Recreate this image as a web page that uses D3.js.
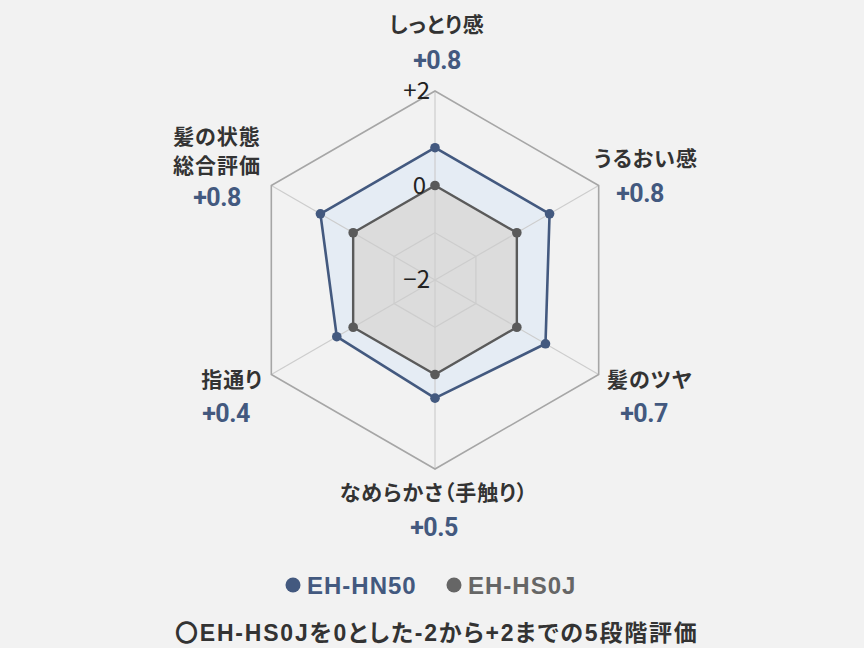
<!DOCTYPE html>
<html>
<head>
<meta charset="utf-8">
<script src="https://cdn.jsdelivr.net/npm/d3@7"></script>
<style>
  html, body { margin: 0; padding: 0; background: #f2f2f2; }
  svg { display: block; }
  .jp { font-feature-settings: "palt"; }
</style>
</head>
<body>
<div id="chart"></div>
<script>
// data
var axes = ["しっとり感", "うるおい感", "髪のツヤ", "なめらかさ（手触り）", "指通り", "髪の状態総合評価"];
var valuesHN50 = [0.8, 0.8, 0.7, 0.5, 0.4, 0.8];
var valuesHS0J = [0, 0, 0, 0, 0, 0];
var valueLabels = ["+0.8", "+0.8", "+0.7", "+0.5", "+0.4", "+0.8"];
var seriesNames = ["EH-HN50", "EH-HS0J"];
var tickValues = [-2, 0, 2];
var tickLabels = ["−2", "0", "+2"];
var gridValues = [-1, 0];
var footnote = "〇EH-HS0Jを0とした-2から+2までの5段階評価";

var width = 864, height = 648;
var cx = 435, cy = 280, R = 189;

var blue = "#43597f", gray = "#5a5a5a";
var jp = "'Noto Sans CJK JP', 'Noto Sans', sans-serif";
var num = "Roboto, 'Liberation Sans', sans-serif";
var latin = "'Liberation Sans', 'Noto Sans CJK JP', sans-serif";

var svg = d3.select("#chart").append("svg")
    .attr("width", width).attr("height", height);

svg.append("rect").attr("width", width).attr("height", height).attr("fill", "#f2f2f2");

var r = d3.scaleLinear().domain([-2, 2]).range([0, R]);
var angle = d3.scaleLinear().domain([0, axes.length]).range([0, 2 * Math.PI]);

function pt(i, v) {
    var a = angle(i);
    return [cx + r(v) * Math.sin(a), cy - r(v) * Math.cos(a)];
}

var line = d3.line().curve(d3.curveLinearClosed);
var g = svg.append("g");

// fills first
g.append("path")
    .attr("d", line(valuesHN50.map(function(v, i){ return pt(i, v); })))
    .attr("fill", "#e5ecf4");
g.append("path")
    .attr("d", line(valuesHS0J.map(function(v, i){ return pt(i, v); })))
    .attr("fill", "#dcdcdc");

// axis lines
g.selectAll(".axis").data(axes).enter().append("line")
    .attr("x1", cx).attr("y1", cy)
    .attr("x2", function(d, i){ return pt(i, 2)[0]; })
    .attr("y2", function(d, i){ return pt(i, 2)[1]; })
    .attr("stroke", "#cdcdcd").attr("stroke-width", 1.2);

// inner rings
g.selectAll(".ring").data(gridValues).enter().append("path")
    .attr("d", function(v){ return line(axes.map(function(d, i){ return pt(i, v); })); })
    .attr("fill", "none").attr("stroke", "#cdcdcd").attr("stroke-width", 1.2);

// outer ring
g.append("path")
    .attr("d", line(axes.map(function(d, i){ return pt(i, 2); })))
    .attr("fill", "none").attr("stroke", "#a6a6a6").attr("stroke-width", 1.6);

// series outlines
g.append("path")
    .attr("d", line(valuesHN50.map(function(v, i){ return pt(i, v); })))
    .attr("fill", "none")
    .attr("stroke", blue).attr("stroke-width", 2.6).attr("stroke-linejoin", "round");
g.append("path")
    .attr("d", line(valuesHS0J.map(function(v, i){ return pt(i, v); })))
    .attr("fill", "none")
    .attr("stroke", gray).attr("stroke-width", 2.4).attr("stroke-linejoin", "round");

// dots
g.selectAll(".dotHN").data(valuesHN50).enter().append("circle")
    .attr("cx", function(v, i){ return pt(i, v)[0]; })
    .attr("cy", function(v, i){ return pt(i, v)[1]; })
    .attr("r", 4.8).attr("fill", blue);
g.selectAll(".dotHS").data(valuesHS0J).enter().append("circle")
    .attr("cx", function(v, i){ return pt(i, v)[0]; })
    .attr("cy", function(v, i){ return pt(i, v)[1]; })
    .attr("r", 4.8).attr("fill", gray);

// tick labels
g.selectAll(".tick").data(tickValues).enter().append("text")
    .attr("x", function(v){ return v === 0 ? cx - 9 : cx - 5; })
    .attr("y", function(v){ return cy - r(v) + 8; })
    .attr("text-anchor", "end")
    .attr("font-family", jp).attr("font-weight", 400).attr("font-size", 24).attr("fill", "#222")
    .text(function(v, i){ return tickLabels[i]; });

// category + value labels
var labelPos = [
    {x: 437, y: [32], vy: 69},
    {x: 646, y: [166], vy: 202},
    {x: 650, y: [387], vy: 422},
    {x: 434, y: [500], vy: 536},
    {x: 232, y: [387], vy: 422},
    {x: 217, y: [144, 173], vy: 206}
];
var catLines = [["しっとり感"], ["うるおい感"], ["髪のツヤ"], ["なめらかさ（手触り）"], ["指通り"], ["髪の状態", "総合評価"]];

axes.forEach(function(a, i){
    var p = labelPos[i];
    catLines[i].forEach(function(t, j){
        svg.append("text").attr("class", "jp")
            .attr("x", p.x).attr("y", p.y[j])
            .attr("text-anchor", "middle")
            .attr("font-family", jp).attr("font-weight", "bold").attr("font-size", 21)
            .attr("letter-spacing", 1)
            .attr("fill", "#333")
            .text(t);
    });
    svg.append("text")
        .attr("x", p.x - (i === 1 || i === 2 || i === 4 ? 6 : 0)).attr("y", p.vy)
        .attr("text-anchor", "middle")
        .attr("font-family", num).attr("font-weight", "bold").attr("font-size", 25)
        .attr("letter-spacing", -0.5)
        .attr("fill", blue)
        .text(valueLabels[i]);
});

// legend
var legendColors = [blue, "#666"];
var legendX = [293, 454];
seriesNames.forEach(function(n, i){
    svg.append("circle").attr("cx", legendX[i]).attr("cy", 585).attr("r", 7.5).attr("fill", legendColors[i]);
    svg.append("text")
        .attr("x", legendX[i] + 14).attr("y", 594)
        .attr("font-family", latin).attr("font-weight", "bold").attr("font-size", 24)
        .attr("letter-spacing", 1)
        .attr("fill", legendColors[i])
        .text(n);
});

// footnote
svg.append("text").attr("class", "jp")
    .attr("x", 175).attr("y", 641)
    .attr("font-family", latin).attr("font-weight", "bold").attr("font-size", 23)
    .attr("letter-spacing", 1.8)
    .attr("fill", "#333")
    .text(footnote);
</script>
</body>
</html>
